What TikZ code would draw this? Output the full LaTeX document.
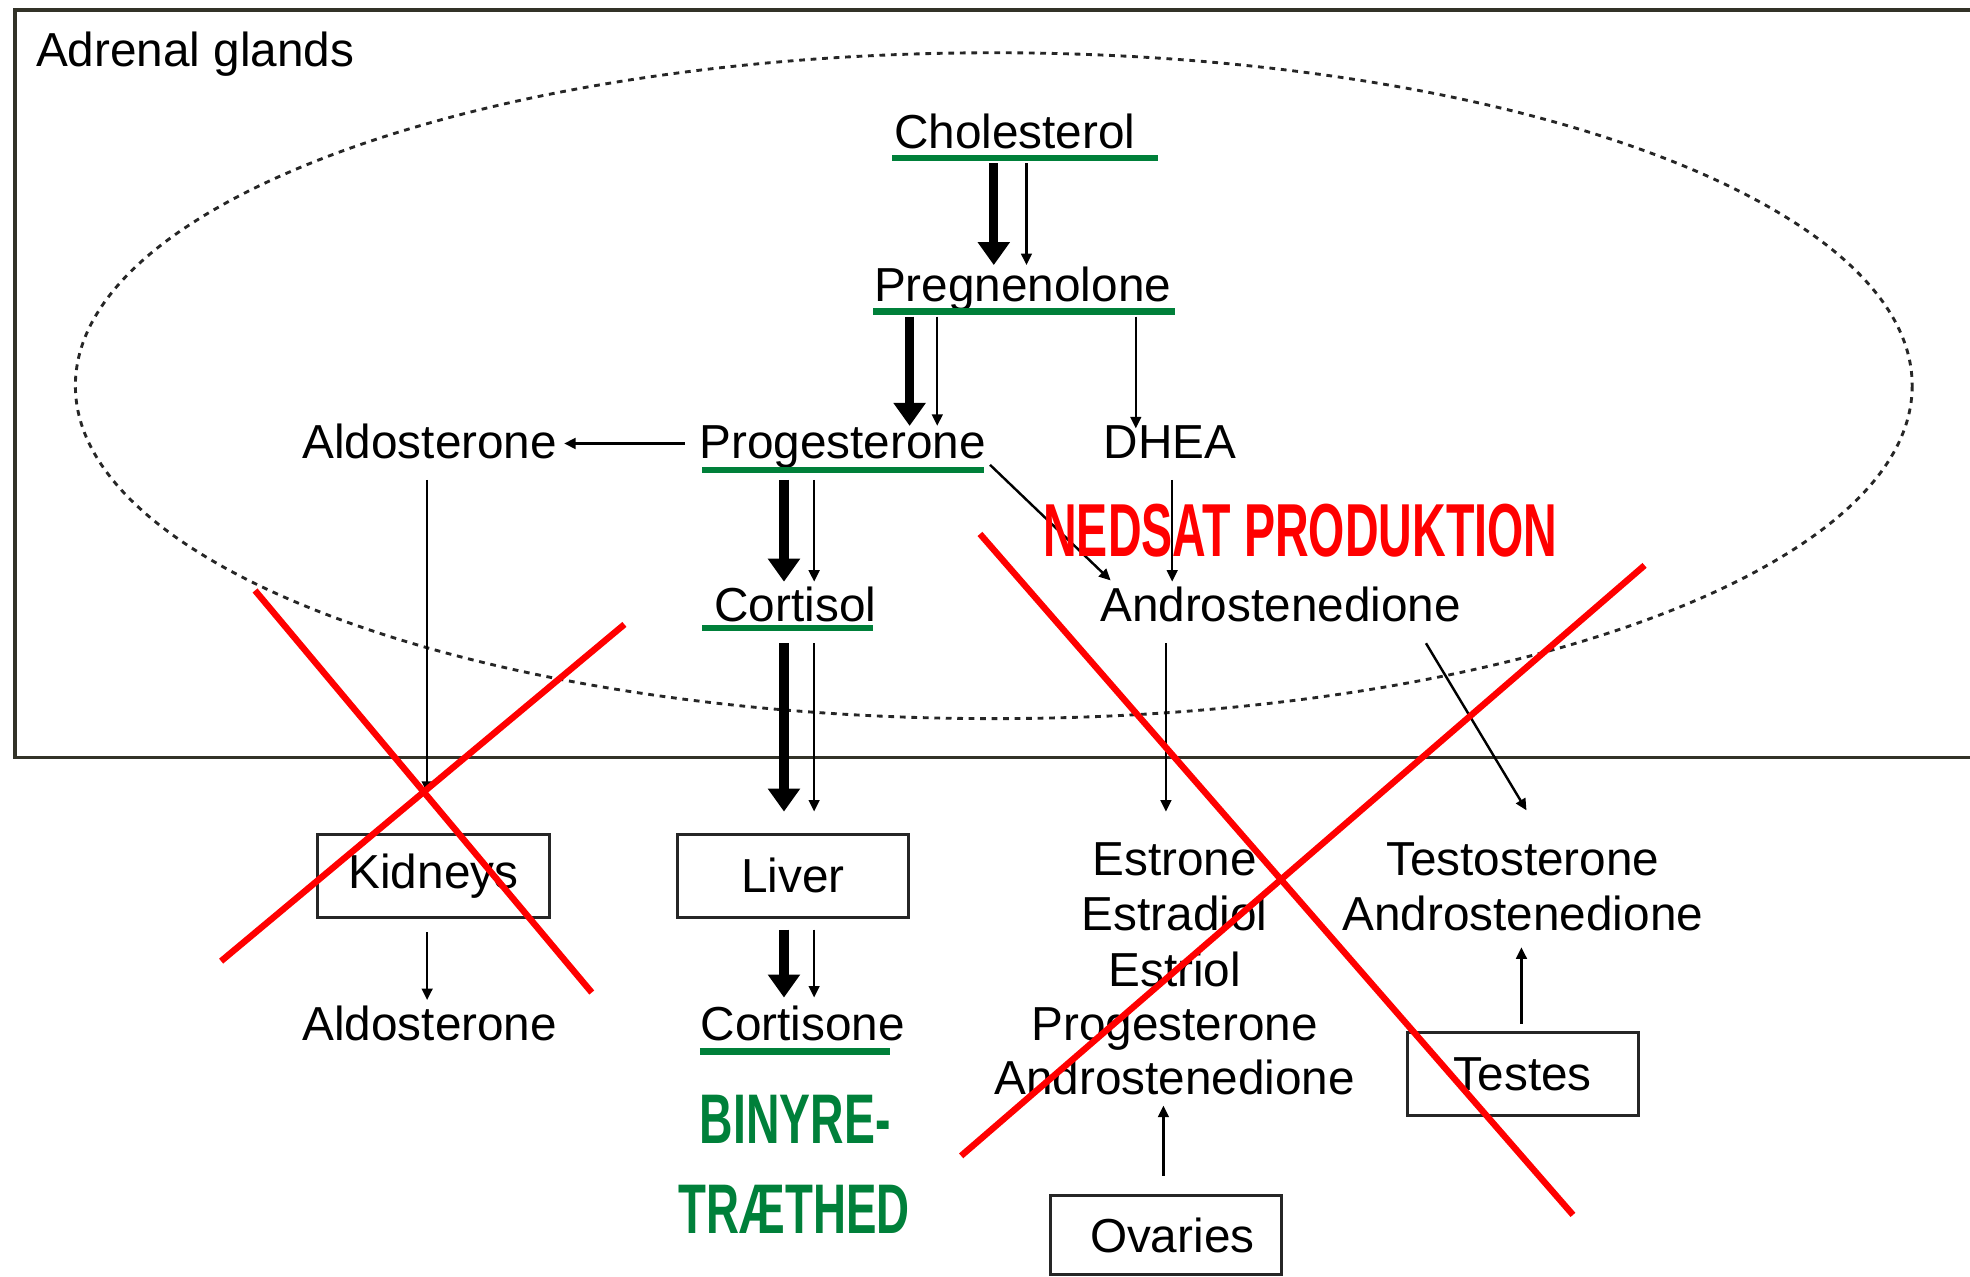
\documentclass[tikz,border=0pt]{standalone}
\usepackage{fontspec}
\setmainfont{Liberation Sans}
\usetikzlibrary{arrows.meta}
\definecolor{grn}{RGB}{0,128,58}
\definecolor{framec}{RGB}{50,50,40}
\tikzset{
 lbl/.style={inner sep=0pt, anchor=base west, font=\fontsize{10.8}{13}\selectfont},
 lblc/.style={inner sep=0pt, anchor=base, font=\fontsize{10.8}{13}\selectfont},
 organ/.style={draw=black!85, line width=0.65pt, minimum width=1.84cm, minimum height=0.66cm, inner sep=0pt, font=\fontsize{10.8}{13}\selectfont},
 uline/.style={grn, line width=1.4pt},
 bigarr/.style={line width=2.1pt, -{Triangle[length=5.2pt,width=7pt]}},
 smallarr/.style={line width=0.55pt, -{Triangle[length=2.6pt,width=2.4pt]}},
 crossline/.style={red, line width=1.45pt},
 warnred/.style={inner sep=0pt, anchor=base, text=red, font=\fontsize{17}{20}\selectfont\bfseries},
 warngrn/.style={inner sep=0pt, anchor=base, text=grn, font=\fontsize{15.9}{19}\selectfont\bfseries},
 gland/.style={black!85, line width=0.65pt, dash pattern=on 1.3pt off 1.3pt},
}
\begin{document}
\begin{tikzpicture}[x=0.01cm,y=-0.01cm]
\useasboundingbox (0,0) rectangle (1568,1016);
\fill[white] (0,0) rectangle (1568,1016);
% adrenal frame
\draw[framec, line width=0.85pt] (1575,8) -- (12,8) -- (12,603) -- (1575,603);
\node[lbl] (adrenal) at (28,53) {Adrenal glands};
\draw[gland] (791,307) ellipse [x radius=731, y radius=265];

% text nodes
\node[lbl] (chol) at (711,118) {Cholesterol};
\node[lbl] (preg) at (695,240) {Pregnenolone};
\node[lbl] (prog) at (556,365) {Progesterone};
\node[lbl] (aldo) at (240,365) {Aldosterone};
\node[lbl] (dhea) at (878,365) {DHEA};
\node[lbl] (cort) at (568,495) {Cortisol};
\node[lbl] (andro) at (875,495) {Androstenedione};
\node[lbl] (aldob) at (240,828) {Aldosterone};
\node[lbl] (cortisone) at (557,828) {Cortisone};
\node[lblc] (estrone) at (935,697) {Estrone};
\node[lblc] (estradiol) at (935,741) {Estradiol};
\node[lblc] (estriol) at (935,785) {Estriol};
\node[lblc] (progov) at (935,828) {Progesterone};
\node[lblc] (androov) at (935,871) {Androstenedione};
\node[lblc] (testo) at (1212,697) {Testosterone};
\node[lblc] (androte) at (1212,741) {Androstenedione};

% organs
\node[organ] (kidneys) at (345,697) {Kidneys};
\node[organ] (liver) at (631,697) {Liver};
\node[organ] (testes) at (1212,855) {Testes};
\node[organ, minimum height=0.63cm] (ovaries) at (928,983) {\hspace*{0.1cm}Ovaries};

% green underlines
\draw[uline] (710,126) -- (922,126);
\draw[uline] (695,248) -- (935,248);
\draw[uline] (559,374) -- (783,374);
\draw[uline] (559,500) -- (695,500);
\draw[uline] (557,837) -- (708,837);

% arrow end points
\coordinate (c1a) at (791,130); \coordinate (c1b) at (791,211);
\coordinate (c2a) at (817,130); \coordinate (c2b) at (817,211);
\coordinate (p1a) at (724,252); \coordinate (p1b) at (724,339);
\coordinate (p2a) at (746,252); \coordinate (p2b) at (746,339);
\coordinate (pda) at (904,252); \coordinate (pdb) at (904,341);
\coordinate (r1a) at (624,382); \coordinate (r1b) at (624,463);
\coordinate (r2a) at (648,382); \coordinate (r2b) at (648,463);
\coordinate (raa) at (788,370); \coordinate (rab) at (884,462);
\coordinate (rla) at (545,353); \coordinate (rlb) at (449,353);
\coordinate (dha) at (933,382); \coordinate (dhb) at (933,463);
\coordinate (o1a) at (624,512); \coordinate (o1b) at (624,646);
\coordinate (o2a) at (648,512); \coordinate (o2b) at (648,646);
\coordinate (aea) at (928,512); \coordinate (aeb) at (928,646);
\coordinate (ata) at (1135,512); \coordinate (atb) at (1215,645);
\coordinate (aka) at (340,382); \coordinate (akb) at (340,631);
\coordinate (kaa) at (340,742); \coordinate (kab) at (340,796);
\coordinate (l1a) at (624,740); \coordinate (l1b) at (624,794);
\coordinate (l2a) at (648,740); \coordinate (l2b) at (648,794);
\coordinate (tta) at (1211,815); \coordinate (ttb) at (1211,754);
\coordinate (ova) at (926,936); \coordinate (ovb) at (926,880);

% arrows
\draw[bigarr] (c1a) -- (c1b);
\draw[smallarr] (c2a) -- (c2b);
\draw[bigarr] (p1a) -- (p1b);
\draw[smallarr] (p2a) -- (p2b);
\draw[smallarr] (pda) -- (pdb);
\draw[bigarr] (r1a) -- (r1b);
\draw[smallarr] (r2a) -- (r2b);
\draw[smallarr] (raa) -- (rab);
\draw[smallarr, line width=0.8pt] (rla) -- (rlb);
\draw[smallarr] (dha) -- (dhb);
\draw[bigarr] (o1a) -- (o1b);
\draw[smallarr] (o2a) -- (o2b);
\draw[smallarr] (aea) -- (aeb);
\draw[smallarr] (ata) -- (atb);
\draw[smallarr] (aka) -- (akb);
\draw[smallarr] (kaa) -- (kab);
\draw[bigarr] (l1a) -- (l1b);
\draw[smallarr] (l2a) -- (l2b);
\draw[smallarr] (tta) -- (ttb);
\draw[smallarr] (ova) -- (ovb);

% labels
\node[warnred] (nedsat) at (1035,443) {\scalebox{0.62}[1]{NEDSAT PRODUKTION}};
\node[warngrn] (binyre) at (633,910) {\scalebox{0.66}[1]{BINYRE-}};
\node[warngrn] (traethed) at (632,982) {\scalebox{0.65}[1]{TRÆTHED}};

% red crosses
\coordinate (x1a) at (203,470); \coordinate (x1b) at (471,790);
\coordinate (x1c) at (497,497); \coordinate (x1d) at (176,765);
\coordinate (x2a) at (780,425); \coordinate (x2b) at (1252,967);
\coordinate (x2c) at (1309,450); \coordinate (x2d) at (765,920);
\draw[crossline] (x1a) -- (x1b);
\draw[crossline] (x1c) -- (x1d);
\draw[crossline] (x2a) -- (x2b);
\draw[crossline] (x2c) -- (x2d);
\end{tikzpicture}
\end{document}
